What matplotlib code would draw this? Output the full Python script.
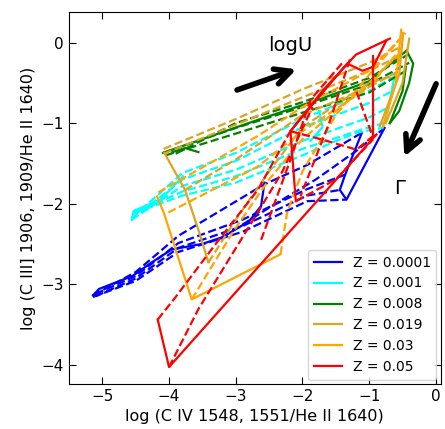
import numpy as np
import matplotlib
matplotlib.use('Agg')
import matplotlib.pyplot as plt

# metallicities and colours
z_labels = ['Z = 0.0001', 'Z = 0.001', 'Z = 0.008', 'Z = 0.019', 'Z = 0.03', 'Z = 0.05']
z_colors = ['blue', 'cyan', 'green', 'goldenrod', 'orange', 'red']

# grid tracks, (x, y) = (log CIV/HeII, log CIII]/HeII)
blue_solid = [
    [(-5.14, -3.14), (-5.05, -3.06), (-4.55, -2.90), (-4.26, -2.73), (-3.96, -2.57),
     (-3.5, -2.5), (-3.21, -2.42), (-2.8, -2.22), (-2.62, -2.03), (-2.57, -1.74)],
    [(-1.11, -1.12), (-1.36, -1.64), (-1.44, -1.83), (-1.34, -1.95), (-0.77, -1.06)],
]
blue_dashed = [
    [(-5.14, -3.14), (-4.5, -2.85), (-3.86, -2.40), (-2.57, -1.76), (-1.93, -1.52), (-1.11, -1.12)],
    [(-5.10, -3.12), (-4.5, -2.90), (-3.86, -2.49), (-2.9, -2.20), (-1.93, -1.82), (-1.36, -1.64)],
    [(-5.10, -3.15), (-4.5, -2.93), (-3.86, -2.55), (-2.9, -2.28), (-1.93, -1.90), (-1.44, -1.83)],
    [(-5.14, -3.16), (-4.5, -2.96), (-3.86, -2.60), (-2.9, -2.35), (-1.93, -1.97), (-1.34, -1.95)],
    [(-3.2, -2.42), (-2.5, -2.05), (-1.8, -1.70), (-1.2, -1.35), (-0.77, -1.06)],
]

cyan_solid = [
    [(-4.56, -2.20), (-4.53, -2.09), (-4.13, -1.95), (-3.79, -1.66)],
    [(-1.75, -0.85), (-1.70, -1.05), (-1.88, -1.22)],
    [(-0.62, -0.42), (-0.72, -0.85), (-0.80, -1.06)],
]
cyan_dashed = [
    [(-4.56, -2.18), (-3.8, -1.62), (-3.0, -1.37), (-2.0, -0.95), (-1.0, -0.60), (-0.62, -0.42)],
    [(-4.56, -2.20), (-3.8, -1.70), (-3.0, -1.47), (-2.0, -1.05), (-1.0, -0.75), (-0.65, -0.60)],
    [(-4.56, -2.20), (-3.8, -1.78), (-3.0, -1.58), (-2.0, -1.22), (-1.0, -0.93), (-0.70, -0.80)],
    [(-4.53, -2.12), (-3.8, -1.85), (-3.0, -1.66), (-2.0, -1.32), (-1.0, -1.05), (-0.78, -1.00)],
    [(-4.53, -2.12), (-3.8, -1.90), (-3.0, -1.74), (-2.0, -1.40), (-1.2, -1.12), (-0.80, -1.06)],
]

green_solid = [
    [(-4.09, -1.37), (-3.4, -1.17), (-2.67, -0.96), (-1.8, -0.72), (-1.0, -0.48), (-0.44, -0.10)],
    [(-3.95, -1.36), (-3.76, -1.31), (-3.56, -1.36)],
    [(-0.44, -0.10), (-0.34, -0.26), (-0.40, -0.50), (-0.55, -0.85), (-0.69, -1.00)],
    [(-0.45, -0.30), (-0.50, -0.60), (-0.69, -1.00)],
]
green_dashed = [
    [(-4.09, -1.37), (-3.0, -1.06), (-2.0, -0.80), (-1.0, -0.52), (-0.40, -0.25)],
    [(-4.05, -1.40), (-3.0, -1.13), (-2.0, -0.87), (-1.0, -0.62), (-0.45, -0.35)],
    [(-3.90, -1.38), (-3.0, -1.00), (-2.0, -0.74), (-1.0, -0.44), (-0.42, -0.15)],
]

gold_solid = [
    [(-4.07, -1.37), (-3.76, -1.83), (-3.55, -2.35), (-3.41, -2.73)],
    [(-0.49, 0.12), (-0.55, -0.40), (-0.84, -1.04)],
    [(-0.40, 0.05), (-0.50, -0.50), (-0.75, -1.00)],
]
gold_dashed = [
    [(-4.08, -1.32), (-3.0, -0.95), (-2.0, -0.58), (-1.0, -0.25), (-0.52, -0.05)],
    [(-4.08, -1.38), (-3.0, -1.02), (-2.0, -0.68), (-1.0, -0.35), (-0.50, -0.15)],
    [(-3.76, -1.83), (-3.0, -1.45), (-2.0, -0.90), (-1.0, -0.55), (-0.55, -0.35)],
    [(-3.41, -2.73), (-3.0, -2.20), (-2.5, -1.60), (-2.0, -1.05), (-1.0, -0.50), (-0.60, -0.40)],
]

orange_solid = [
    [(-4.18, -1.91), (-4.08, -2.11), (-3.66, -3.19), (-2.33, -2.63)],
    [(-0.52, 0.16), (-0.60, -0.50), (-0.79, -1.04)],
]
orange_dashed = [
    [(-4.16, -1.86), (-2.67, -1.16), (-2.0, -0.80), (-1.0, -0.35), (-0.45, 0.12)],
    [(-4.01, -2.11), (-2.67, -1.54), (-2.0, -1.10), (-1.0, -0.55), (-0.50, -0.05)],
    [(-3.66, -3.19), (-3.3, -2.70), (-3.0, -2.30), (-2.5, -1.70), (-2.0, -1.20), (-1.0, -0.50), (-0.50, -0.10)],
    [(-2.33, -2.63), (-2.23, -2.11), (-2.0, -1.60), (-1.5, -0.90), (-1.0, -0.40), (-0.48, 0.10)],
]

red_solid = [
    [(-4.17, -3.44), (-4.00, -4.03), (-0.89, -1.14)],
    [(-2.10, -1.97), (-2.18, -1.10), (-1.85, -0.77), (-1.33, -0.26), (-1.10, -0.35),
     (-0.94, -0.30), (-0.74, 0.03)],
    [(-2.18, -1.10), (-1.70, -0.60), (-1.20, -0.15), (-0.69, 0.05)],
    [(-0.94, -0.17), (-0.94, -1.16)],
]
red_dashed = [
    [(-4.17, -3.44), (-3.91, -3.17), (-3.3, -2.50), (-2.67, -1.83), (-2.18, -1.10)],
    [(-4.00, -4.03), (-3.56, -3.31), (-2.67, -2.11), (-2.3, -1.60), (-1.85, -0.80)],
    [(-2.18, -1.10), (-1.68, -1.21), (-1.19, -1.33), (-0.94, -1.16)],
    [(-1.29, -0.21), (-1.60, -1.00), (-2.03, -1.91)],
    [(-2.10, -1.97), (-1.50, -1.70), (-0.94, -1.20)],
    [(-1.19, -0.61), (-0.96, -1.14)],
    [(-2.62, -2.45), (-2.2, -1.5), (-1.88, -0.71), (-1.4, -0.25)],
]

solid_sets = [blue_solid, cyan_solid, green_solid, gold_solid, orange_solid, red_solid]
dashed_sets = [blue_dashed, cyan_dashed, green_dashed, gold_dashed, orange_dashed, red_dashed]

fig, ax = plt.subplots(figsize=(4.45, 4.29), dpi=100)
fig.subplots_adjust(left=0.155, right=0.99, bottom=0.105, top=0.972)

for col, lab, solids, dashes in zip(z_colors, z_labels, solid_sets, dashed_sets):
    for k, seg in enumerate(solids):
        xs, ys = zip(*seg)
        ax.plot(xs, ys, '-', color=col, lw=1.6, label=lab if k == 0 else None)
    for seg in dashes:
        xs, ys = zip(*seg)
        ax.plot(xs, ys, '--', color=col, lw=1.6)

# arrows showing direction of increasing logU and Gamma
ax.annotate('', xy=(-2.05, -0.32), xytext=(-3.02, -0.60),
            arrowprops=dict(arrowstyle='->', lw=4, color='k', mutation_scale=28))
ax.annotate('', xy=(-0.49, -1.45), xytext=(0.02, -0.48),
            arrowprops=dict(arrowstyle='->', lw=4, color='k', mutation_scale=28),
            annotation_clip=False)
ax.text(-2.18, -0.03, 'logU', fontsize=14, ha='center', va='center')
ax.text(-0.53, -1.81, r'$\Gamma$', fontsize=14, ha='center', va='center')

ax.set_xlim(-5.5, 0.07)
ax.set_ylim(-4.24, 0.38)
ax.set_xticks([-5, -4, -3, -2, -1, 0])
ax.set_yticks([-4, -3, -2, -1, 0])
ax.tick_params(direction='in', top=True, right=True, labelsize=11, length=5)
ax.set_xlabel('log (C IV 1548, 1551/He II 1640)', fontsize=11.5)
ax.set_ylabel('log (C III] 1906, 1909/He II 1640)', fontsize=11.5)
ax.legend(loc='lower right', fontsize=10, handlelength=2.0, borderaxespad=0.3)

fig.savefig('out.png', dpi=100)
